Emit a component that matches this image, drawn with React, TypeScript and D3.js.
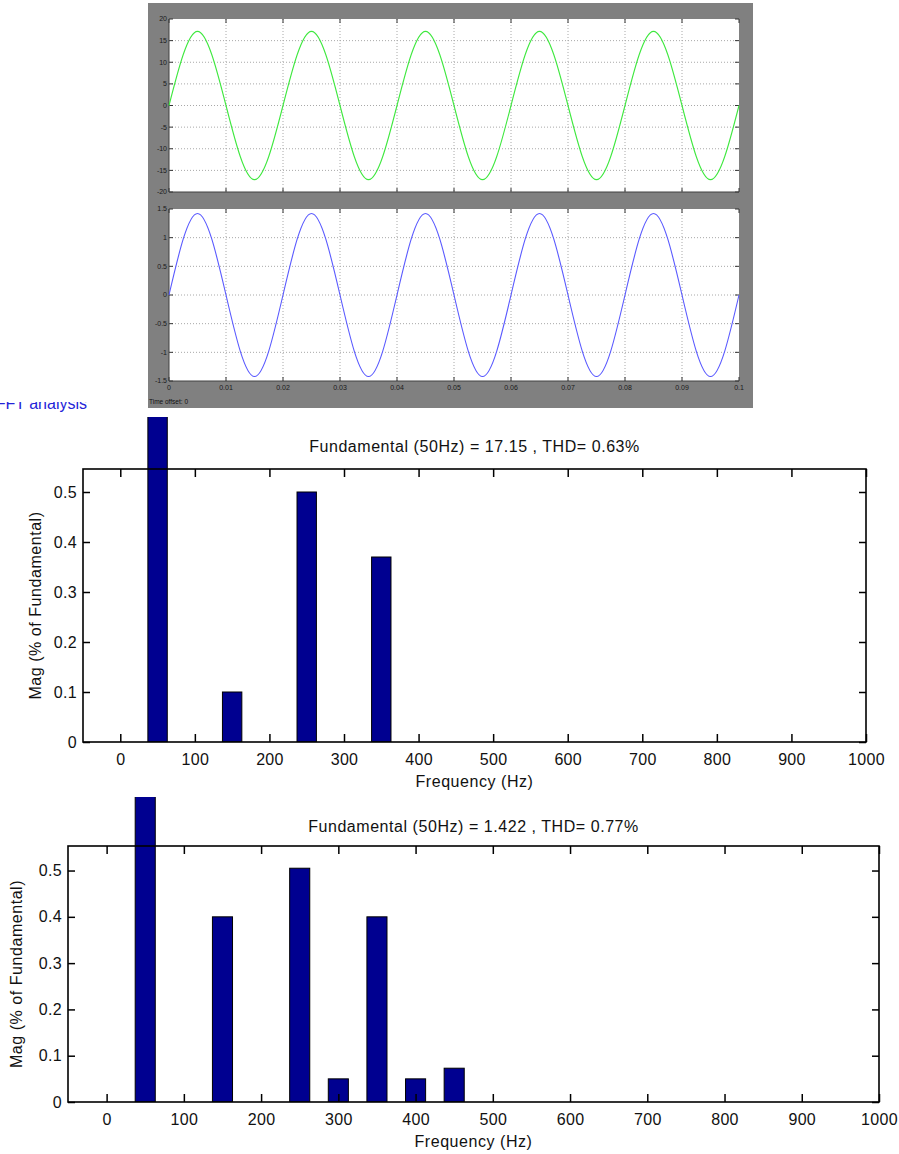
import React, { useRef, useEffect } from 'react';
import * as d3 from 'd3';

const W = 899;
const H = 1154;
const FONT = '"Liberation Sans", Arial, sans-serif';

// scope traces: zero crossings and peaks (50 Hz, 0..0.1 s)
const scopeTimes = [
  0, 0.005, 0.01, 0.015, 0.02, 0.025, 0.03, 0.035, 0.04, 0.045, 0.05,
  0.055, 0.06, 0.065, 0.07, 0.075, 0.08, 0.085, 0.09, 0.095, 0.1,
];
const voltageWave = [
  0, 17.15, 0, -17.15, 0, 17.15, 0, -17.15, 0, 17.15, 0,
  -17.15, 0, 17.15, 0, -17.15, 0, 17.15, 0, -17.15, 0,
];
const currentWave = [
  0, 1.422, 0, -1.422, 0, 1.422, 0, -1.422, 0, 1.422, 0,
  -1.422, 0, 1.422, 0, -1.422, 0, 1.422, 0, -1.422, 0,
];
const timeTicks = [0, 0.01, 0.02, 0.03, 0.04, 0.05, 0.06, 0.07, 0.08, 0.09, 0.1];
const voltageTicks = [-20, -15, -10, -5, 0, 5, 10, 15, 20];
const currentTicks = [-1.5, -1, -0.5, 0, 0.5, 1, 1.5];

// harmonic spectra (% of fundamental)
const freqTicks = [0, 100, 200, 300, 400, 500, 600, 700, 800, 900, 1000];
const magTicks = [0, 0.1, 0.2, 0.3, 0.4, 0.5];
const harmonicsA = [50, 150, 250, 350];
const magsA = [100, 0.1, 0.5, 0.37];
const harmonicsB = [50, 150, 250, 300, 350, 400, 450];
const magsB = [100, 0.4, 0.505, 0.05, 0.4, 0.05, 0.073];
const titleA = 'Fundamental (50Hz) = 17.15 , THD= 0.63%';
const titleB = 'Fundamental (50Hz) = 1.422 , THD= 0.77%';

function drawScope(svg, box, values, yTicks, color, xLabels) {
  const x = d3.scaleLinear().domain([0, 0.1]).range([box.left, box.right]);
  const y = d3.scaleLinear().domain([yTicks[0], yTicks[yTicks.length - 1]]).range([box.bottom, box.top]);
  const g = svg.append('g');
  g.append('rect')
    .attr('x', box.left).attr('y', box.top)
    .attr('width', box.right - box.left).attr('height', box.bottom - box.top)
    .attr('fill', '#fff');

  // dotted grid
  g.selectAll('.vg').data(timeTicks.slice(1, -1)).enter().append('line')
    .attr('x1', (d) => x(d)).attr('x2', (d) => x(d))
    .attr('y1', box.top).attr('y2', box.bottom)
    .attr('stroke', '#a8a8a8').attr('stroke-dasharray', '1,2');
  g.selectAll('.hg').data(yTicks.slice(1, -1)).enter().append('line')
    .attr('x1', box.left).attr('x2', box.right)
    .attr('y1', (d) => y(d)).attr('y2', (d) => y(d))
    .attr('stroke', '#a8a8a8').attr('stroke-dasharray', '1,2');

  // inward ticks on all four sides
  const t = 4;
  timeTicks.forEach((d) => {
    g.append('line').attr('x1', x(d)).attr('x2', x(d)).attr('y1', box.top).attr('y2', box.top + t).attr('stroke', '#333');
    g.append('line').attr('x1', x(d)).attr('x2', x(d)).attr('y1', box.bottom).attr('y2', box.bottom - t).attr('stroke', '#333');
  });
  yTicks.forEach((d) => {
    g.append('line').attr('x1', box.left).attr('x2', box.left + t).attr('y1', y(d)).attr('y2', y(d)).attr('stroke', '#333');
    g.append('line').attr('x1', box.right).attr('x2', box.right - t).attr('y1', y(d)).attr('y2', y(d)).attr('stroke', '#333');
  });
  g.append('path')
    .attr('d', `M${box.left},${box.top}V${box.bottom}H${box.right}`)
    .attr('fill', 'none').attr('stroke', '#404040');

  g.selectAll('.yl').data(yTicks).enter().append('text')
    .attr('x', box.left - 2).attr('y', (d) => y(d)).attr('dy', '0.35em')
    .attr('text-anchor', 'end').attr('font-size', 7).attr('font-family', FONT)
    .attr('fill', '#1a1a1a').text((d) => String(d));
  if (xLabels) {
    g.selectAll('.xl').data(timeTicks).enter().append('text')
      .attr('x', (d) => x(d)).attr('y', box.bottom + 9)
      .attr('text-anchor', 'middle').attr('font-size', 7).attr('font-family', FONT)
      .attr('fill', '#1a1a1a').text((d) => String(d));
  }

  const line = d3.line().x((d, i) => x(scopeTimes[i])).y((d) => y(d)).curve(d3.curveNatural);
  g.append('path').attr('d', line(values)).attr('fill', 'none').attr('stroke', color).attr('stroke-width', 1.1);
}

function drawSpectrum(svg, cfg, id) {
  const x = d3.scaleLinear().domain([-50, 1000]).range([cfg.left, cfg.right]);
  const y = d3.scaleLinear().domain([0, cfg.yMax]).range([cfg.bottom, cfg.top]);
  const g = svg.append('g').attr('font-family', FONT);

  svg.append('clipPath').attr('id', id)
    .append('rect').attr('x', 0).attr('y', cfg.clipTop).attr('width', W).attr('height', cfg.bottom - cfg.clipTop);

  const half = 13;
  g.append('g').attr('clip-path', `url(#${id})`)
    .selectAll('rect').data(cfg.freqs).enter().append('rect')
    .attr('x', (d) => x(d - half))
    .attr('width', (d) => x(d + half) - x(d - half))
    .attr('y', (d, i) => y(cfg.mags[i]))
    .attr('height', (d, i) => cfg.bottom - y(cfg.mags[i]))
    .attr('fill', '#000090').attr('stroke', '#000').attr('stroke-width', 1);

  const style = (ax) => {
    ax.select('.domain').remove();
    ax.selectAll('line').attr('stroke', '#000').attr('stroke-width', 1.5);
    ax.selectAll('text').attr('font-size', 16).attr('fill', '#111').attr('letter-spacing', 0.3).attr('font-family', FONT);
  };

  const xAxis = g.append('g').attr('transform', `translate(0,${cfg.bottom})`)
    .call(d3.axisBottom(x).tickValues(freqTicks).tickSize(-8).tickPadding(12).tickFormat((d) => String(d)));
  style(xAxis);
  const xTop = g.append('g').attr('transform', `translate(0,${cfg.top})`)
    .call(d3.axisTop(x).tickValues(freqTicks).tickSize(-8).tickFormat(() => ''));
  style(xTop);
  const yAxis = g.append('g').attr('transform', `translate(${cfg.left},0)`)
    .call(d3.axisLeft(y).tickValues(magTicks).tickSize(-7).tickPadding(6)
      .tickFormat((d) => (d === 0 ? '0' : d3.format('.1f')(d))));
  style(yAxis);
  const yRight = g.append('g').attr('transform', `translate(${cfg.right},0)`)
    .call(d3.axisRight(y).tickValues(magTicks).tickSize(-7).tickFormat(() => ''));
  style(yRight);

  g.append('rect')
    .attr('x', cfg.left).attr('y', cfg.top)
    .attr('width', cfg.right - cfg.left).attr('height', cfg.bottom - cfg.top)
    .attr('fill', 'none').attr('stroke', '#000').attr('stroke-width', 1.6);

  const cx = (cfg.left + cfg.right) / 2;
  g.append('text').attr('x', cx).attr('y', cfg.titleY)
    .attr('text-anchor', 'middle').attr('font-size', 16).attr('letter-spacing', 0.55)
    .attr('fill', '#111').text(cfg.title);
  g.append('text').attr('x', cx).attr('y', cfg.bottom + 45)
    .attr('text-anchor', 'middle').attr('font-size', 16).attr('letter-spacing', 0.55)
    .attr('fill', '#111').text('Frequency (Hz)');
  g.append('text')
    .attr('transform', `translate(${cfg.yLabelX},${(cfg.top + cfg.bottom) / 2}) rotate(-90)`)
    .attr('text-anchor', 'middle').attr('font-size', 16).attr('letter-spacing', 0.55)
    .attr('fill', '#111').text('Mag (% of Fundamental)');
}

function App() {
  const svgRef = useRef(null);

  useEffect(() => {
    const svg = d3.select(svgRef.current);
    svg.selectAll('*').remove();
    svg.append('rect').attr('width', W).attr('height', H).attr('fill', '#fff');

    // blue caption, only its lower part shows under the scope window
    svg.append('clipPath').attr('id', 'capclip')
      .append('rect').attr('x', 0).attr('y', 402).attr('width', 140).attr('height', 20);
    svg.append('text')
      .attr('clip-path', 'url(#capclip)')
      .attr('x', 87).attr('y', 409).attr('text-anchor', 'end')
      .attr('font-family', FONT).attr('font-size', 16).attr('fill', '#2424d8')
      .text('FFT analysis');

    // scope window
    svg.append('rect').attr('x', 148).attr('y', 3).attr('width', 605).attr('height', 405).attr('fill', '#808080');
    drawScope(svg, { left: 169, right: 739, top: 19, bottom: 192 }, voltageWave, voltageTicks, '#3ee83e', false);
    drawScope(svg, { left: 169, right: 739, top: 209, bottom: 381 }, currentWave, currentTicks, '#5a5aff', true);
    svg.append('text').attr('x', 149).attr('y', 404)
      .attr('font-family', FONT).attr('font-size', 6.5).attr('fill', '#111')
      .text('Time offset:  0');

    drawSpectrum(svg, {
      left: 83, right: 866, top: 469, bottom: 742, yMax: 0.546, clipTop: 417,
      freqs: harmonicsA, mags: magsA, title: titleA, titleY: 452, yLabelX: 41,
    }, 'barsA');
    drawSpectrum(svg, {
      left: 68, right: 879, top: 846, bottom: 1102, yMax: 0.553, clipTop: 797,
      freqs: harmonicsB, mags: magsB, title: titleB, titleY: 832, yLabelX: 22,
    }, 'barsB');
  }, []);

  return (
    <svg
      ref={svgRef}
      width={W}
      height={H}
      style={{ position: 'absolute', left: 0, top: 0, display: 'block' }}
    />
  );
}

export default App;
